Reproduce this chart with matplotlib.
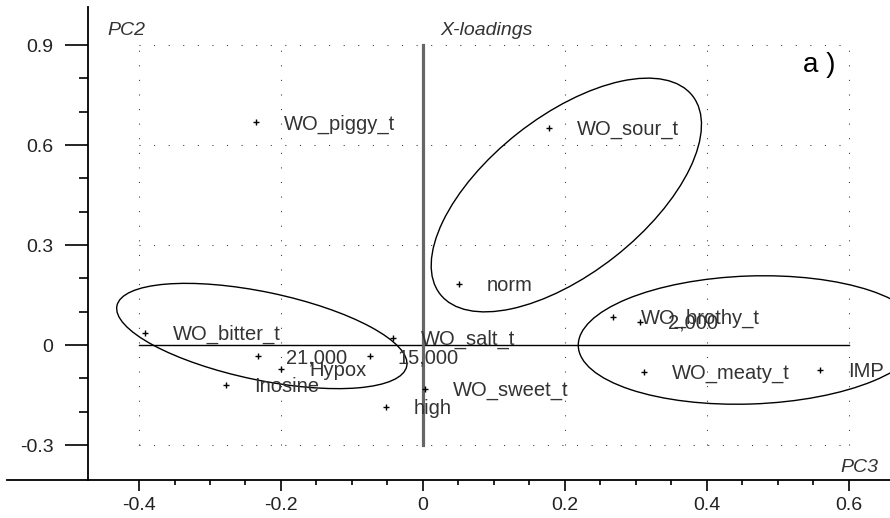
import matplotlib
matplotlib.use("Agg")
import matplotlib.pyplot as plt
import matplotlib.transforms as mtransforms
from matplotlib.patches import Ellipse
from matplotlib.ticker import FixedLocator, FuncFormatter

plt.rcParams['font.family'] = ['Liberation Sans', 'DejaVu Sans']
plt.rcParams['axes.unicode_minus'] = False

# ---- data (PC3 = x, PC2 = y loadings) ----
labels = ["WO_piggy_t", "WO_sour_t", "norm", "WO_bitter_t", "21,000", "15,000",
          "Hypox", "Inosine", "high", "WO_salt_t", "WO_sweet_t", "WO_brothy_t",
          "2,000", "WO_meaty_t", "IMP"]
pc3 = [-0.235, 0.177, 0.051, -0.392, -0.232, -0.075, -0.200, -0.277, -0.052,
       -0.042, 0.003, 0.268, 0.306, 0.311, 0.559]
pc2 = [0.668, 0.652, 0.183, 0.036, -0.033, -0.033, -0.072, -0.120, -0.187,
       0.021, -0.132, 0.085, 0.070, -0.080, -0.075]

# group ellipses: centre (data), size in pixels, tilt in degrees
ell_cx = [-0.227, 0.202, 0.461]
ell_cy = [0.027, 0.450, 0.015]
ell_w = [296, 321, 344]
ell_h = [88, 157, 128]
ell_ang = [-11.8, 38.2, 2.0]

xticks = [-0.4, -0.2, 0.0, 0.2, 0.4, 0.6]
yticks = [-0.3, 0.0, 0.3, 0.6, 0.9]
xminor = [-0.35, -0.3, -0.25, -0.15, -0.1, -0.05, 0.05, 0.1, 0.15,
          0.25, 0.3, 0.35, 0.45, 0.5, 0.55]
yminor = [-0.2, -0.1, 0.1, 0.2, 0.4, 0.5, 0.7, 0.8]
grid_x = [-0.4, -0.2, 0.2, 0.4, 0.6]
grid_y = [-0.3, 0.3, 0.6, 0.9]

W, H = 890, 518
fig = plt.figure(figsize=(W / 100, H / 100), dpi=100)
ax = fig.add_axes([7 / W, (H - 480) / H, (W - 7) / W, (480 - 7) / H])

xlo, xhi = -0.586, 0.658
ylo, yhi = -0.405, 1.014

# dotted grid box
dot = (0, (1, 13))
ax.vlines(grid_x, -0.3, 0.9, colors='#333333', linewidth=0.75, linestyles=[dot])
ax.hlines(grid_y, -0.4, 0.6, colors='#333333', linewidth=0.75, linestyles=[dot])
# zero lines
ax.plot([-0.4, 0.6], [0, 0], color='black', lw=1.0, zorder=2)
ax.plot([0, 0], [-0.3, 0.9], color='#666666', lw=2.3, zorder=2)

# points and labels
ax.plot(pc3, pc2, linestyle='none', marker='+', markersize=4, mew=1.0,
        color='black', zorder=3)
for lab, x, y in zip(labels, pc3, pc2):
    ax.annotate(lab, (x, y), xytext=(28, -7), textcoords='offset pixels',
                ha='left', va='baseline', fontsize=14.5, color='#333333',
                zorder=4)

# ellipses
for cx, cy, w, h, a in zip(ell_cx, ell_cy, ell_w, ell_h, ell_ang):
    tr = mtransforms.IdentityTransform() + mtransforms.ScaledTranslation(cx, cy, ax.transData)
    e = Ellipse((0, 0), w, h, angle=a, transform=tr, fill=False,
                edgecolor='black', lw=1.0, zorder=3)
    ax.add_patch(e)

ax.set_xlim(xlo, xhi)
ax.set_ylim(ylo, yhi)

# spines
for s in ('top', 'right'):
    ax.spines[s].set_visible(False)
ax.spines['left'].set_position(('data', -0.4718))
ax.spines['left'].set_linewidth(1.3)
ax.spines['bottom'].set_linewidth(1.3)

fmt = FuncFormatter(lambda v, p: '0' if abs(v) < 1e-9 else ('%.1f' % v))
ax.xaxis.set_major_locator(FixedLocator(xticks))
ax.xaxis.set_minor_locator(FixedLocator(xminor))
ax.yaxis.set_major_locator(FixedLocator(yticks))
ax.yaxis.set_minor_locator(FixedLocator(yminor))
ax.xaxis.set_major_formatter(fmt)
ax.yaxis.set_major_formatter(fmt)
ax.tick_params(axis='x', which='major', direction='out', length=8, width=1.2,
               pad=4, labelsize=14, labelcolor='#222222')
ax.tick_params(axis='x', which='minor', direction='out', length=3.5, width=1.2)
ax.tick_params(axis='y', which='major', direction='out', length=16.5, width=1.2,
               pad=8.5, labelsize=14, labelcolor='#222222')
ax.tick_params(axis='y', which='minor', direction='out', length=6.5, width=1.2)

# titles / axis names
fig.text(107 / W, 1 - 35 / H, 'PC2', fontsize=14, style='italic',
         color='#333333', ha='left', va='baseline')
fig.text(440 / W, 1 - 35 / H, 'X-loadings', fontsize=14, style='italic',
         color='#333333', ha='left', va='baseline')
fig.text(803 / W, 1 - 72 / H, 'a )', fontsize=20, color='black',
         ha='left', va='baseline')
fig.text(840 / W, 1 - 472 / H, 'PC3', fontsize=14, style='italic',
         color='#333333', ha='left', va='baseline')

fig.savefig('out.png', dpi=100)
